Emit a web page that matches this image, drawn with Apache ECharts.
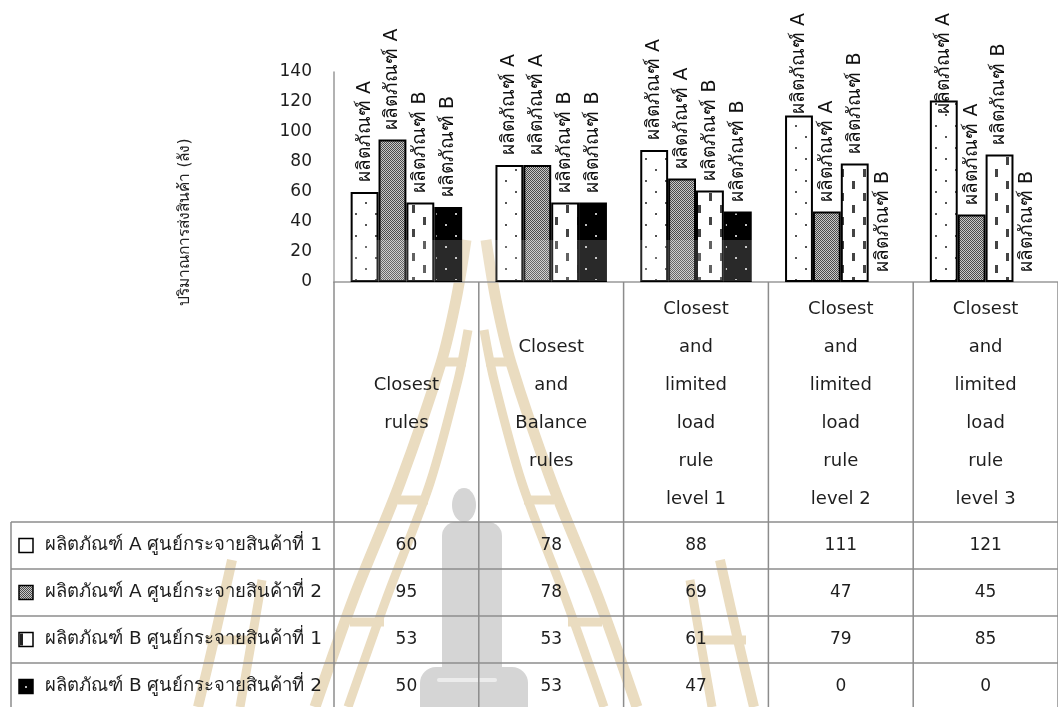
<!DOCTYPE html>
<html>
<head>
<meta charset="utf-8">
<script src="https://cdn.jsdelivr.net/npm/echarts@6/dist/echarts.min.js"></script>
<style>
  html, body { margin: 0; padding: 0; background: #fff; }
  #chart { width: 1058px; height: 707px; }
</style>
</head>
<body>
<div id="chart"></div>
<script>
// Shipment rule scenarios (x categories)
const categories = [
  'Closest\nrules',
  'Closest\nand\nBalance\nrules',
  'Closest\nand\nlimited\nload\nrule\nlevel 1',
  'Closest\nand\nlimited\nload\nrule\nlevel 2',
  'Closest\nand\nlimited\nload\nrule\nlevel 3'
];
// Series (product / distribution centre)
const seriesNames = [
  'ผลิตภัณฑ์ A ศูนย์กระจายสินค้าที่ 1',
  'ผลิตภัณฑ์ A ศูนย์กระจายสินค้าที่ 2',
  'ผลิตภัณฑ์ B ศูนย์กระจายสินค้าที่ 1',
  'ผลิตภัณฑ์ B ศูนย์กระจายสินค้าที่ 2'
];
const barLabels = ['ผลิตภัณฑ์ A', 'ผลิตภัณฑ์ A', 'ผลิตภัณฑ์ B', 'ผลิตภัณฑ์ B'];
const productA_DC1 = [60, 78, 88, 111, 121];
const productA_DC2 = [95, 78, 69, 47, 45];
const productB_DC1 = [53, 53, 61, 79, 85];
const productB_DC2 = [50, 53, 47, 0, 0];
const seriesValues = [productA_DC1, productA_DC2, productB_DC1, productB_DC2];
const yTicks = { min: 0, max: 140, interval: 20 };
const yTitle = 'ปริมาณการส่งสินค้า (ลัง)';

// ---- fill patterns ----
function tile(w, h, draw) {
  const c = document.createElement('canvas');
  c.width = w; c.height = h;
  draw(c.getContext('2d'));
  return c;
}
const dotsTile = tile(20, 22, g => {
  g.fillStyle = '#fff'; g.fillRect(0, 0, 20, 22);
  g.fillStyle = '#555';
  g.fillRect(5, 4, 2, 2); g.fillRect(15, 15, 2, 2);
});
const checkTile = tile(4, 4, g => {
  g.fillStyle = '#c8c8c8'; g.fillRect(0, 0, 4, 4);
  g.fillStyle = '#4a4a4a';
  g.fillRect(0, 0, 1, 1); g.fillRect(2, 0, 1, 1);
  g.fillRect(1, 1, 1, 1); g.fillRect(3, 1, 1, 1);
  g.fillRect(0, 2, 1, 1); g.fillRect(2, 2, 1, 1);
  g.fillRect(1, 3, 1, 1); g.fillRect(3, 3, 1, 1);
});
const dashTile = tile(22, 24, g => {
  g.fillStyle = '#fff'; g.fillRect(0, 0, 22, 24);
  g.fillStyle = '#444';
  g.fillRect(5, 1, 3, 8); g.fillRect(16, 13, 3, 8);
});
const darkDotsTile = tile(20, 22, g => {
  g.fillStyle = '#000'; g.fillRect(0, 0, 20, 22);
  g.fillStyle = '#bbb';
  g.fillRect(5, 4, 2, 2); g.fillRect(15, 15, 2, 2);
});
const fills = [dotsTile, checkTile, dashTile, darkDotsTile].map(c => ({ image: c, repeat: 'repeat' }));

const GRID = { left: 334, width: 733, top: 72, bottom: 425 };
const TEXT = '#1e1e1e';
const FONT = 'DejaVu Sans, Noto Sans, sans-serif';
const TAN = '#eadcc0';
const STATUE = '#d5d5d5';
const LABEL_TOP = 13;

const chart = echarts.init(document.getElementById('chart'), null, { renderer: 'canvas' });

const option = {
  animation: false,
  backgroundColor: '#fff',
  grid: GRID,
  xAxis: {
    type: 'category',
    data: categories,
    axisLine: { show: true, lineStyle: { color: '#999', width: 1.5 } },
    axisTick: { show: false },
    axisLabel: { show: false }
  },
  yAxis: {
    type: 'value',
    min: yTicks.min, max: yTicks.max, interval: yTicks.interval,
    axisLine: { show: true, lineStyle: { color: '#999', width: 1.5 } },
    axisTick: { show: false },
    splitLine: { show: false },
    axisLabel: { color: TEXT, fontSize: 17, fontFamily: FONT, margin: 22, padding: [0, 0, 8, 0] }
  },
  series: seriesValues.map((vals, i) => ({
    name: seriesNames[i],
    type: 'bar',
    z: 3,
    data: vals.map(v => (v === 0 ? { value: v, itemStyle: { borderWidth: 0 } } : v)),
    barGap: '0%',
    barCategoryGap: '23%',
    itemStyle: { color: fills[i], borderColor: '#000', borderWidth: 2 },
    label: {
      show: true,
      position: 'top',
      distance: 10,
      rotate: 90,
      align: 'left',
      verticalAlign: 'middle',
      formatter: () => barLabels[i],
      color: '#111',
      fontSize: 19,
      fontFamily: FONT
    },
    // keep labels of tall bars inside the chart: slide them down onto the bar
    labelLayout: p => {
      const r = p.labelRect;
      return r.y < LABEL_TOP ? { y: LABEL_TOP + r.height } : {};
    }
  }))
};
chart.setOption(option);

// ---- background emblem (faint) ----
function emblem() {
  const els = [];
  const cx = 476;
  const rail = (pts, w) => ({
    type: 'polyline', silent: true, z: -10,
    shape: { points: pts, smooth: 0.3 },
    style: { stroke: TAN, lineWidth: w, fill: null, lineCap: 'butt' }
  });
  const mirror = pts => pts.map(p => [2 * cx - p[0], p[1]]);
  const both = (pts, w) => { els.push(rail(pts, w)); els.push(rail(mirror(pts), w)); };
  // main ladder rails
  both([[466, 240], [456, 300], [441, 363], [400, 483], [354, 597], [315, 707]], 11);
  both([[468, 330], [458, 380], [430, 483], [387, 597], [348, 707]], 9);
  // rungs
  both([[438, 362], [466, 362]], 9);
  both([[398, 500], [428, 500]], 9);
  both([[350, 622], [384, 622]], 9);
  // outer lower ladders
  both([[232, 560], [214, 640], [198, 707]], 10);
  both([[262, 580], [250, 650], [240, 707]], 9);
  both([[206, 640], [252, 640]], 9);
  // statue silhouette
  els.push({ type: 'ellipse', silent: true, z: -9, shape: { cx: 464, cy: 505, rx: 12, ry: 17 }, style: { fill: STATUE } });
  els.push({ type: 'rect', silent: true, z: -9, shape: { x: 442, y: 522, width: 60, height: 150, r: [14, 14, 4, 4] }, style: { fill: STATUE } });
  els.push({ type: 'rect', silent: true, z: -9, shape: { x: 420, y: 667, width: 108, height: 45, r: [16, 16, 0, 0] }, style: { fill: STATUE } });
  els.push({ type: 'rect', silent: true, z: -8, shape: { x: 437, y: 678, width: 60, height: 4, r: 2 }, style: { fill: '#ececec' } });
  // light veil over the lower part of the plot
  els.push({ type: 'rect', silent: true, z: 50, shape: { x: 330, y: 240, width: 440, height: 41 }, style: { fill: 'rgba(255,255,255,0.16)' } });
  return els;
}

// ---- data table under the plot, aligned with the category axis ----
function buildTable() {
  const els = emblem();
  const x0 = chart.convertToPixel({ xAxisIndex: 0 }, 0);
  const x1 = chart.convertToPixel({ xAxisIndex: 0 }, 1);
  const colW = x1 - x0;
  const axisY = chart.convertToPixel({ yAxisIndex: 0 }, 0);
  const headBottom = 522;
  const rowH = 47;
  const leftX = 11;
  const rightX = 1058;
  const lineStyle = { stroke: '#8c8c8c', lineWidth: 1.5 };

  for (let c = 0; c <= categories.length; c++) {
    const x = x0 - colW / 2 + c * colW;
    els.push({ type: 'line', z: 5, shape: { x1: x, y1: axisY, x2: x, y2: 720 }, style: lineStyle, silent: true });
  }
  for (let r = 0; r <= seriesNames.length; r++) {
    const y = headBottom + r * rowH;
    els.push({ type: 'line', z: 5, shape: { x1: leftX, y1: y, x2: rightX, y2: y }, style: lineStyle, silent: true });
  }
  els.push({ type: 'line', z: 5, shape: { x1: leftX, y1: headBottom, x2: leftX, y2: 720 }, style: lineStyle, silent: true });

  categories.forEach((cat, c) => {
    els.push({
      type: 'text', silent: true, z: 6,
      style: {
        text: cat, x: x0 + c * colW, y: (axisY + headBottom) / 2 + 2,
        align: 'center', verticalAlign: 'middle',
        fill: TEXT, fontSize: 18, fontFamily: FONT, lineHeight: 38
      }
    });
  });

  seriesNames.forEach((name, r) => {
    const cy = headBottom + r * rowH + rowH / 2;
    els.push({
      type: 'rect', silent: true, z: 6,
      shape: { x: 19, y: cy - 7, width: 14, height: 14 },
      style: { fill: r === 2 ? '#fff' : fills[r], stroke: '#000', lineWidth: 1.5 }
    });
    if (r === 2) {
      els.push({ type: 'rect', silent: true, z: 6, shape: { x: 20, y: cy - 6, width: 3, height: 12 }, style: { fill: '#222' } });
    }
    els.push({
      type: 'text', silent: true, z: 6,
      style: {
        text: name, x: 45, y: cy, align: 'left', verticalAlign: 'middle',
        fill: TEXT, fontSize: 18.5, fontFamily: FONT
      }
    });
    seriesValues[r].forEach((v, c) => {
      els.push({
        type: 'text', silent: true, z: 6,
        style: {
          text: String(v), x: x0 + c * colW, y: cy,
          align: 'center', verticalAlign: 'middle',
          fill: TEXT, fontSize: 17, fontFamily: FONT
        }
      });
    });
  });

  els.push({
    type: 'text', silent: true, z: 6,
    x: 185, y: 222, rotation: Math.PI / 2,
    style: {
      text: yTitle, x: 0, y: 0, align: 'center', verticalAlign: 'middle',
      fill: '#222', fontSize: 15.5, fontFamily: FONT
    }
  });

  chart.setOption({ graphic: { elements: els } });
}
buildTable();
</script>
</body>
</html>
